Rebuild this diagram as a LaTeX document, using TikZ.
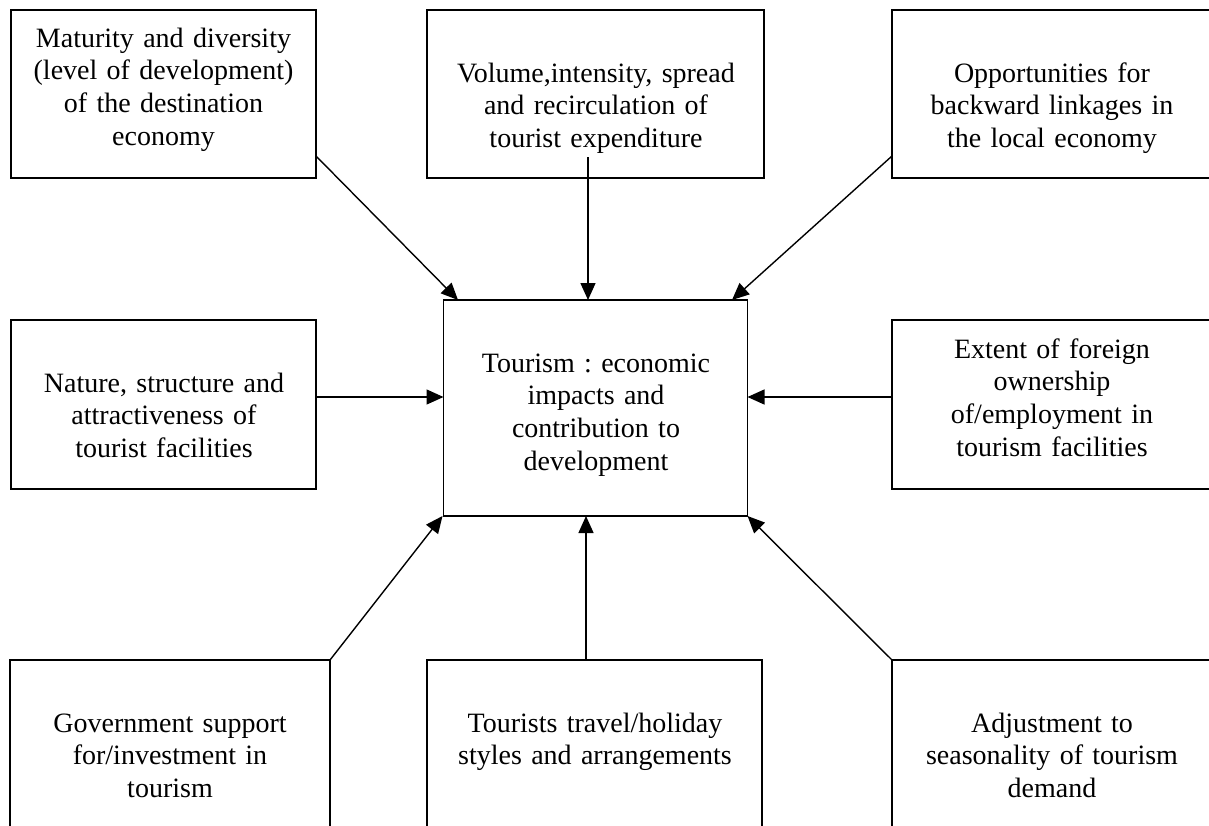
\documentclass[tikz,border=0pt]{standalone}
\usepackage{fontspec}
\setmainfont{Liberation Serif}
\usetikzlibrary{arrows.meta,calc}
\frenchspacing
\begin{document}
\begin{tikzpicture}[x=1pt,y=-1pt,
  box/.style={draw,line width=1.6pt,inner sep=0pt,outer sep=0pt,rectangle},
  txt/.style={font=\fontsize{28}{32.8}\selectfont\frenchspacing,text width=330pt,align=center,anchor=base,inner sep=0pt},
  arr/.style={line width=1.4pt,-{Triangle[length=17pt,width=15pt]}}]
\useasboundingbox (0,0) rectangle (1209,825);
% boxes
\node[box,minimum width=305pt,minimum height=168pt] (tl) at (163.5,94) {};
\node[box,minimum width=337pt,minimum height=168pt] (tm) at (595.5,94) {};
\node[box,minimum width=320pt,minimum height=168pt] (tr) at (1052,94) {};
\node[box,minimum width=305pt,minimum height=169pt] (ml) at (163.5,404.5) {};
\node[box,minimum width=304pt,minimum height=216pt] (c) at (595.5,408) {};
\node[box,minimum width=320pt,minimum height=169pt] (mr) at (1052,404.5) {};
\node[box,minimum width=320pt,minimum height=220pt] (bl) at (170,770) {};
\node[box,minimum width=335pt,minimum height=220pt] (bm) at (594.5,770) {};
\node[box,minimum width=320pt,minimum height=220pt] (br) at (1052,770) {};
% texts
\node[txt] (tlt) at (163.5,47) {Maturity and diversity\\(level of development)\\of the destination\\economy};
\node[txt] (tmt) at (596,82) {Volume,intensity, spread\\and recirculation of\\tourist expenditure};
\node[txt] (trt) at (1052,82) {Opportunities for\\backward linkages in\\the local economy};
\node[txt] (mlt) at (164,392) {Nature, structure and\\attractiveness of\\tourist facilities};
\node[txt] (ct) at (596,372) {Tourism : economic\\impacts and\\contribution to\\development};
\node[txt] (mrt) at (1052,358) {Extent of foreign\\ownership\\of/employment in\\tourism facilities};
\node[txt] (blt) at (170,732) {Government support\\for/investment in\\tourism};
\node[txt] (bmt) at (595,732) {Tourists travel/holiday\\styles and arrangements};
\node[txt] (brt) at (1052,732) {Adjustment to\\seasonality of tourism\\demand};
% arrows
\draw[arr] ($(tl.south east)+(0,-22)$) -- ($(c.north west)+(14.5,0)$);
\draw[arr] ($(tm.south)+(-7.5,-21)$) -- ($(c.north)+(-7.5,0)$);
\draw[arr] ($(tr.south west)+(0,-22)$) -- ($(c.north east)+(-15.5,0)$);
\draw[arr] ($(ml.east)+(0,-7.5)$) -- ($(c.west)+(0,-11)$);
\draw[arr] ($(mr.west)+(0,-7.5)$) -- ($(c.east)+(0,-11)$);
\draw[arr] (bl.north east) -- ($(c.south west)+(-1,0)$);
\draw[arr] ($(bm.north)+(-8.5,0)$) -- ($(c.south)+(-9.5,0)$);
\draw[arr] (br.north west) -- (c.south east);
\end{tikzpicture}
\end{document}
